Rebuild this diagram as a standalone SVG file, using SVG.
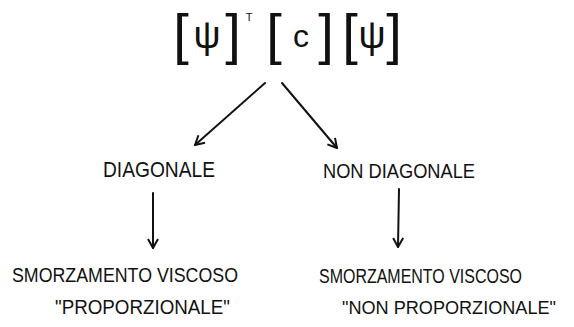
<svg xmlns="http://www.w3.org/2000/svg" width="574" height="327" viewBox="0 0 574 327">
<style>
text{font-family:"Liberation Sans",Arial,sans-serif;fill:#111}
.f{text-anchor:middle}
.br{font-size:56px}
.lbl{font-size:20px}
.conn line{stroke:#111;stroke-width:2;stroke-linecap:round;fill:none}
</style>
<defs>
<marker id="ah" viewBox="0 0 12 12" refX="10" refY="6" markerWidth="12" markerHeight="12" markerUnits="userSpaceOnUse" orient="auto">
<path d="M1,1 L10,6 L1,11" fill="none" stroke="#111" stroke-width="2" stroke-linejoin="round"/>
</marker>
</defs>
<rect width="574" height="327" fill="#fff"/>
<g id="formula" class="f">
<text class="br" x="181" y="53">[</text>
<text x="207" y="48" font-size="38">ψ</text>
<text class="br" x="233" y="53">]</text>
<text x="249" y="21" font-size="11">T</text>
<text class="br" x="274" y="53">[</text>
<text x="301" y="47" font-size="32">c</text>
<text class="br" x="326" y="53">]</text>
<text class="br" x="350" y="53">[</text>
<text x="372" y="48" font-size="38">ψ</text>
<text class="br" x="394" y="53">]</text>
</g>
<g id="diagonale">
<text x="103" y="177" font-size="22" textLength="112" lengthAdjust="spacingAndGlyphs">DIAGONALE</text>
</g>
<g id="non-diagonale">
<text x="323" y="178" font-size="20" textLength="152" lengthAdjust="spacingAndGlyphs">NON DIAGONALE</text>
</g>
<g id="proporzionale">
<text class="lbl" x="12" y="282" textLength="226" lengthAdjust="spacingAndGlyphs">SMORZAMENTO VISCOSO</text>
<text class="lbl" x="55" y="314" textLength="175" lengthAdjust="spacingAndGlyphs">"PROPORZIONALE"</text>
</g>
<g id="non-proporzionale">
<text class="lbl" x="319" y="283" textLength="203" lengthAdjust="spacingAndGlyphs">SMORZAMENTO VISCOSO</text>
<text x="342" y="314" font-size="18" textLength="214" lengthAdjust="spacingAndGlyphs">"NON PROPORZIONALE"</text>
</g>
<g id="connectors" class="conn">
<line x1="265" y1="83" x2="195" y2="145" marker-end="url(#ah)"/>
<line x1="282" y1="83" x2="337" y2="148" marker-end="url(#ah)"/>
<line x1="153" y1="193" x2="153" y2="248" marker-end="url(#ah)"/>
<line x1="399" y1="189" x2="398" y2="247" marker-end="url(#ah)"/>
</g>
</svg>
